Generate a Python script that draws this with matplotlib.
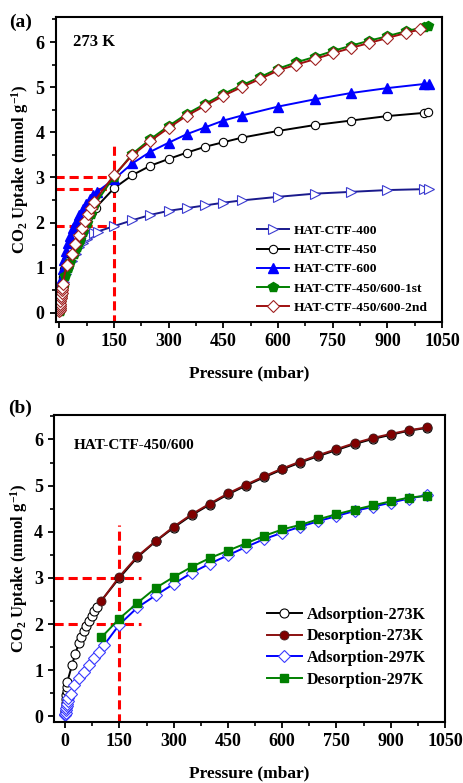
# CO2 isotherms of HAT-CTF samples, two panels

import matplotlib.pyplot as plt
import numpy as np

plt.rcParams['font.family'] = ['Liberation Serif', 'DejaVu Serif']
plt.rcParams['font.weight'] = 'bold'
plt.rcParams['mathtext.fontset'] = 'custom'
plt.rcParams['mathtext.bf'] = 'Liberation Serif:bold'
plt.rcParams['mathtext.rm'] = 'Liberation Serif:bold'
plt.rcParams['mathtext.default'] = 'bf'

# ---- panel (a): 273 K ----
p_400 = [1, 3, 5, 8, 12, 18, 25, 35, 45, 55, 65, 75, 85, 95, 105, 150, 200, 250, 300,
         350, 400, 450, 500, 600, 700, 800, 900, 1000, 1015]
u_400 = [0.1, 0.25, 0.38, 0.52, 0.68, 0.85, 1.0, 1.15, 1.3, 1.45, 1.55, 1.63, 1.7, 1.76,
         1.8, 1.92, 2.05, 2.17, 2.26, 2.32, 2.38, 2.44, 2.49, 2.57, 2.64, 2.68, 2.72, 2.74, 2.75]

p_450 = [1, 2, 4, 6, 9, 13, 18, 24, 30, 37, 45, 53, 62, 71, 80, 90, 100, 150, 200, 250,
         300, 350, 400, 450, 500, 600, 700, 800, 900, 1000, 1010]
u_450 = [0.15, 0.3, 0.48, 0.62, 0.8, 0.98, 1.17, 1.33, 1.46, 1.58, 1.7, 1.82, 1.93, 2.03,
         2.12, 2.23, 2.33, 2.76, 3.05, 3.26, 3.41, 3.55, 3.68, 3.78, 3.88, 4.03, 4.16, 4.26,
         4.36, 4.43, 4.44]

p_600 = [1, 2, 4, 6, 9, 13, 18, 24, 30, 38, 46, 55, 64, 73, 83, 93, 103, 150, 200, 250,
         300, 350, 400, 450, 500, 600, 700, 800, 900, 1000, 1015]
u_600 = [0.2, 0.38, 0.6, 0.78, 0.98, 1.17, 1.36, 1.55, 1.7, 1.87, 2.02, 2.17, 2.3, 2.42,
         2.53, 2.62, 2.68, 2.96, 3.31, 3.57, 3.77, 3.96, 4.11, 4.26, 4.37, 4.57, 4.73, 4.87,
         4.98, 5.07, 5.08]

p_1st = [0.5, 1, 2, 3, 5, 7, 10, 16, 23, 30, 39, 48, 57, 66, 76, 86, 96, 150, 200, 250,
         300, 350, 400, 450, 500, 550, 600, 650, 700, 750, 800, 850, 900, 950, 1000, 1010]
u_1st = [0.03, 0.07, 0.13, 0.2, 0.3, 0.4, 0.55, 0.82, 1.0, 1.12, 1.3, 1.45, 1.62, 1.8,
         1.98, 2.18, 2.38, 3.02, 3.52, 3.85, 4.14, 4.41, 4.63, 4.85, 5.04, 5.22, 5.41, 5.55,
         5.67, 5.8, 5.92, 6.03, 6.13, 6.24, 6.33, 6.36]

p_2nd = [0.3, 0.6, 1, 1.5, 2, 3, 4, 5, 6, 7, 8, 9, 20, 34, 43, 53, 62, 70, 78, 86, 94,
         150, 200, 250, 300, 350, 400, 450, 500, 550, 600, 650, 700, 750, 800, 850, 900,
         950, 990]
u_2nd = [0.03, 0.06, 0.1, 0.15, 0.2, 0.26, 0.32, 0.38, 0.44, 0.5, 0.56, 0.64, 1.05, 1.3,
         1.52, 1.72, 1.88, 2.03, 2.18, 2.32, 2.45, 3.05, 3.49, 3.81, 4.1, 4.37, 4.59, 4.81,
         5.0, 5.18, 5.37, 5.5, 5.62, 5.75, 5.87, 5.98, 6.09, 6.2, 6.28]

# ---- panel (b): HAT-CTF-450/600 ----
p_ads273 = [0.2, 0.5, 1, 1.5, 2, 3, 4, 5, 6, 19, 28, 38, 45, 52, 59, 66, 73, 80, 87, 150,
            200, 250, 300, 350, 400, 450, 500, 550, 600, 650, 700, 750, 800, 850, 900, 950, 1000]
u_ads273 = [0.05, 0.12, 0.22, 0.3, 0.38, 0.47, 0.56, 0.64, 0.75, 1.11, 1.36, 1.58, 1.72,
            1.84, 1.95, 2.06, 2.18, 2.28, 2.38, 3.0, 3.45, 3.79, 4.09, 4.36, 4.59, 4.81, 5.0,
            5.18, 5.35, 5.5, 5.64, 5.77, 5.9, 6.01, 6.1, 6.19, 6.25]

p_des273 = [1000, 950, 900, 850, 800, 750, 700, 650, 600, 550, 500, 450, 400, 350, 300,
            250, 200, 150, 100]
u_des273 = [6.26, 6.2, 6.12, 6.03, 5.92, 5.79, 5.66, 5.52, 5.37, 5.2, 5.02, 4.83, 4.61,
            4.38, 4.11, 3.8, 3.47, 3.03, 2.5]

p_ads297 = [0.2, 0.5, 1, 2, 3, 4, 5, 7, 9, 15, 24, 38, 51, 65, 79, 93, 107, 150, 200, 250,
            300, 350, 400, 450, 500, 550, 600, 650, 700, 750, 800, 850, 900, 950, 1000]
u_ads297 = [0.02, 0.05, 0.08, 0.13, 0.18, 0.22, 0.27, 0.33, 0.4, 0.49, 0.67, 0.83, 0.97,
            1.11, 1.26, 1.4, 1.54, 1.99, 2.36, 2.62, 2.87, 3.11, 3.31, 3.49, 3.67, 3.84, 3.98,
            4.11, 4.23, 4.34, 4.45, 4.54, 4.63, 4.72, 4.79]

p_des297 = [1000, 950, 900, 850, 800, 750, 700, 650, 600, 550, 500, 450, 400, 350, 300,
            250, 200, 150, 100]
u_des297 = [4.78, 4.74, 4.66, 4.57, 4.48, 4.38, 4.27, 4.15, 4.05, 3.91, 3.75, 3.59, 3.43,
            3.24, 3.02, 2.78, 2.46, 2.12, 1.71]

fig = plt.figure(figsize=(4.64, 7.83), dpi=100)
ax1 = fig.add_axes([0.120, 0.589, 0.833, 0.389])
ax2 = fig.add_axes([0.117, 0.078, 0.842, 0.392])

red_dash = dict(color='#ff0000', lw=2.2, ls=(0, (3, 1.6)), zorder=1)


def style_axes(ax, xlim, ylim):
    ax.set_xlim(*xlim)
    ax.set_ylim(*ylim)
    ax.set_xticks(np.arange(0, 1051, 150))
    ax.set_xticks(np.arange(75, 1051, 150), minor=True)
    ax.set_yticks(np.arange(0, 7, 1))
    ax.set_yticks(np.arange(0.5, 6.6, 1), minor=True)
    ax.tick_params(which='major', direction='out', length=4.5, width=1.3,
                   labelsize=13, top=False, right=False)
    ax.tick_params(which='minor', direction='out', length=3, width=1.2,
                   top=False, right=False)
    for s in ax.spines.values():
        s.set_linewidth(1.5)
    ax.set_xlabel('Pressure (mbar)', fontsize=12.5, fontweight='bold', labelpad=11)
    ax.set_ylabel('CO$_2$ Uptake (mmol g$^{-1}$)', fontsize=12, fontweight='bold', labelpad=3)


# panel (a)
ax1.plot(p_400, u_400, color='#1a1a8c', lw=1.4, marker='>', ms=7, mfc='white',
         mec='#3a3ad0', mew=0.8, label='HAT-CTF-400')
ax1.plot(p_450, u_450, color='black', lw=1.4, marker='o', ms=6, mfc='white',
         mec='black', mew=0.8, label='HAT-CTF-450')
ax1.plot(p_600, u_600, color='#0000ff', lw=1.4, marker='^', ms=7, mfc='#0000ff',
         mec='#0000ff', label='HAT-CTF-600')
ax1.plot(p_1st, u_1st, color='#008000', lw=1.4, marker='p', ms=7, mfc='#008000',
         mec='#008000', label='HAT-CTF-450/600-1st')
ax1.plot(p_2nd, u_2nd, color='#a01010', lw=1.4, marker='D', ms=6, mfc='white',
         mec='#a02020', mew=0.8, label='HAT-CTF-450/600-2nd')

ax1.plot([-12, 160], [3.0, 3.0], **red_dash)
ax1.plot([-12, 160], [2.75, 2.75], **red_dash)
ax1.plot([-12, 160], [1.92, 1.92], **red_dash)
ax1.plot([150, 150], [-0.25, 3.75], **red_dash)

style_axes(ax1, (-10, 1050), (-0.2, 6.55))
ax1.text(0.045, 0.905, '273 K', transform=ax1.transAxes, fontsize=12, fontweight='bold')
fig.text(0.02, 0.972, '(a)', fontsize=14, fontweight='bold', va='center')
ax1.legend(loc='center left', bbox_to_anchor=(256.7 / 464, 1 - 269.2 / 783),
           bbox_transform=fig.transFigure, frameon=False,
           handlelength=2.4, handletextpad=0.35, labelspacing=0.5, borderpad=0,
           borderaxespad=0, prop={'weight': 'bold', 'size': 9.7})

# panel (b)
ax2.plot(p_ads273, u_ads273, color='black', lw=1.4, marker='o', ms=6.5, mfc='white',
         mec='black', mew=0.8, label='Adsorption-273K')
ax2.plot(p_des273, u_des273, color='#8b1010', lw=1.4, marker='o', ms=6.5, mfc='#800000',
         mec='#402020', mew=0.6, label='Desorption-273K')
ax2.plot(p_ads297, u_ads297, color='#0000ff', lw=1.4, marker='D', ms=6, mfc='white',
         mec='#3a3aff', mew=0.8, label='Adsorption-297K')
ax2.plot(p_des297, u_des297, color='#008000', lw=1.4, marker='s', ms=6, mfc='#008000',
         mec='#008000', label='Desorption-297K')

ax2.plot([-30, 210], [3.0, 3.0], **red_dash)
ax2.plot([-30, 210], [2.0, 2.0], **red_dash)
ax2.plot([150, 150], [-0.15, 4.15], **red_dash)

style_axes(ax2, (-30, 1050), (-0.12, 6.53))
ax2.text(0.05, 0.89, 'HAT-CTF-450/600', transform=ax2.transAxes, fontsize=11,
         fontweight='bold')
fig.text(0.018, 0.478, '(b)', fontsize=14, fontweight='bold', va='center')
ax2.legend(loc='center left', bbox_to_anchor=(266.7 / 464, 1 - 647.2 / 783),
           bbox_transform=fig.transFigure, frameon=False,
           handlelength=2.2, handletextpad=0.3, labelspacing=0.35, borderpad=0,
           borderaxespad=0, prop={'weight': 'bold', 'size': 11.5})

fig.savefig('out.png', dpi=100)
